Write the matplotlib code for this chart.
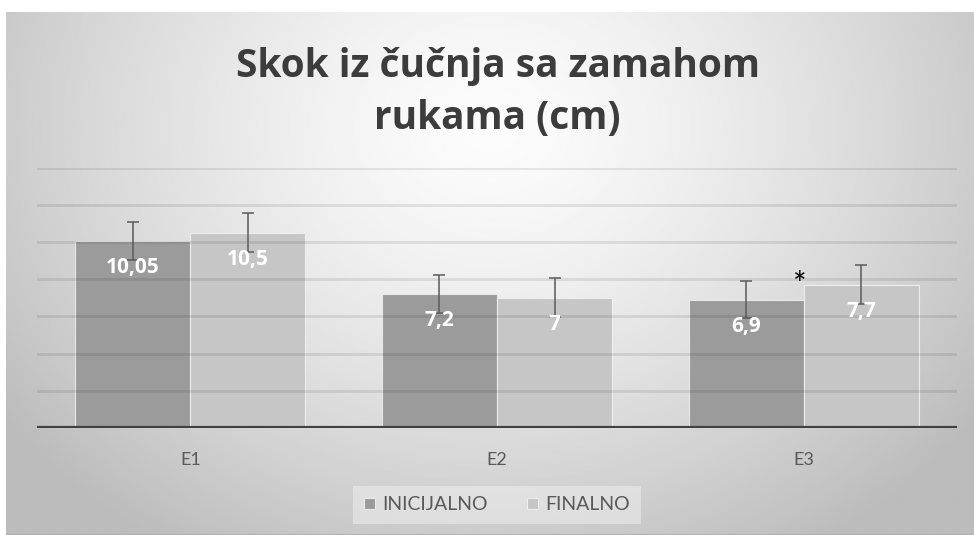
import matplotlib.pyplot as plt
import numpy as np

categories = ['E1', 'E2', 'E3']
inicijalno = [10.05, 7.2, 6.9]
finalno = [10.5, 7.0, 7.7]
err_inicijalno = [1.0, 1.0, 1.0]
err_finalno = [1.05, 1.05, 1.05]
value_labels_inic = ['10,05', '7,2', '6,9']
value_labels_fin = ['10,5', '7', '7,7']
series_names = ['INICIJALNO', 'FINALNO']

FONT = 'Lato'
C_INIC = '#9b9b9b'
C_FIN = '#c6c6c6'
TEXT_GRAY = '#595959'

plt.rcParams['font.family'] = [FONT, 'DejaVu Sans']

W, H = 974, 535
fig = plt.figure(figsize=(W / 100, H / 100), dpi=100, facecolor='white')

# radial gradient chart background
bg = fig.add_axes([6 / W, 0, (W - 6) / W, (H - 12) / H])
yy, xx = np.mgrid[0:1:300j, 0:1:500j]
r = np.sqrt(((xx - 0.5) / 0.62) ** 2 + ((yy - 0.22) / 0.95) ** 2)
shade = np.clip(252 - 64 * r ** 1.4, 188, 252) / 255.0
bg.imshow(shade, cmap='gray', vmin=0, vmax=1, aspect='auto',
          extent=[0, 1, 1, 0], interpolation='bilinear')
bg.axhline(1.0, color='#b0b0b0', lw=2)
bg.set_xlim(0, 1)
bg.set_ylim(1, 0)
bg.axis('off')

ax = fig.add_axes([37 / W, (H - 428) / H, 920 / W, (428 - 167.6) / H])
ax.patch.set_alpha(0)
x = np.arange(len(categories))
w = 0.375

b1 = ax.bar(x - w / 2, inicijalno, w, color=C_INIC, edgecolor='#e8e8e8',
            linewidth=0.8, zorder=1, label=series_names[0])
b2 = ax.bar(x + w / 2, finalno, w, color=C_FIN, edgecolor='#eeeeee',
            linewidth=0.8, zorder=1, label=series_names[1])

# gridlines sit over the (semi transparent looking) bars
for g in range(2, 15, 2):
    ax.axhline(g, color='black', alpha=0.09, lw=2, zorder=2)
ax.axhline(0, color='#404040', lw=3, zorder=5)

ax.errorbar(x - w / 2, inicijalno, yerr=err_inicijalno, fmt='none',
            ecolor='#5a5a5a', elinewidth=1.1, capsize=4, capthick=1.1,
            zorder=4)
ax.errorbar(x + w / 2, finalno, yerr=err_finalno, fmt='none',
            ecolor='#5a5a5a', elinewidth=1.1, capsize=4, capthick=1.1,
            zorder=4)

for xi, v, lab in zip(x - w / 2, inicijalno, value_labels_inic):
    ax.annotate(lab, (xi, v), xytext=(0, -19), textcoords='offset points',
                ha='center', va='center', color='white', fontsize=15,
                fontweight='bold', family='Open Sans', zorder=6)
for xi, v, lab in zip(x + w / 2, finalno, value_labels_fin):
    ax.annotate(lab, (xi, v), xytext=(0, -19), textcoords='offset points',
                ha='center', va='center', color='white', fontsize=15,
                fontweight='bold', family='Open Sans', zorder=6)

# significance mark on E3 final
ax.annotate('*', (x[2], finalno[2]), xytext=(-3, -1), textcoords='offset points',
            ha='center', va='center', color='black', fontsize=23, zorder=6)

ax.set_xlim(-0.5, 2.5)
ax.set_ylim(0, 14)
ax.set_yticks([])
ax.set_xticks(x)
ax.set_xticklabels(categories, color=TEXT_GRAY, fontsize=13)
ax.tick_params(axis='x', length=0, pad=17)
for s in ax.spines.values():
    s.set_visible(False)

fig.text(498 / W, 1 - 66 / H, 'Skok iz čučnja sa zamahom', ha='center',
         va='center', fontsize=28, fontweight='bold', family='Open Sans',
         color='#3c3c3c')
fig.text(497 / W, 1 - 118 / H, 'rukama (cm)', ha='center',
         va='center', fontsize=28, fontweight='bold', family='Open Sans',
         color='#3c3c3c')

leg = fig.legend(handles=[b1, b2], loc='center', ncol=2,
                 bbox_to_anchor=(497 / W, 1 - 505 / H), frameon=True,
                 fontsize=14, handlelength=0.55, handleheight=0.55,
                 handletextpad=0.4, columnspacing=2.0, borderpad=0.55,
                 borderaxespad=0, fancybox=False)
leg.get_frame().set_facecolor('#ebebeb')
leg.get_frame().set_edgecolor('none')
leg.get_frame().set_alpha(0.6)
for t in leg.get_texts():
    t.set_color(TEXT_GRAY)

fig.savefig('out.png', dpi=100, facecolor='white')
